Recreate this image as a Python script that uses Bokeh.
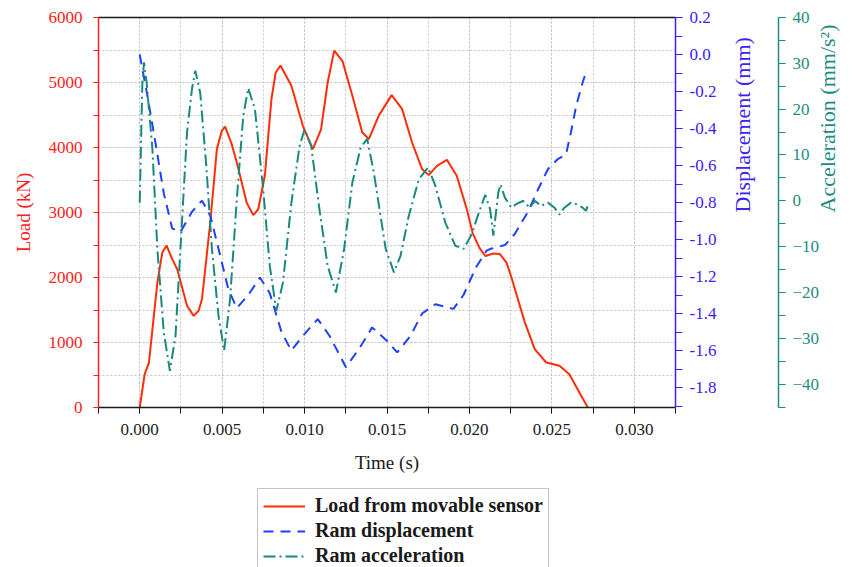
import math
from bokeh.plotting import figure
from bokeh.layouts import column
from bokeh.models import (Range1d, LinearAxis, SingleIntervalTicker, FixedTicker,
                          PrintfTickFormatter, Legend, LegendItem)
from bokeh.embed import file_html
from bokeh.resources import INLINE

# ---------------- data ----------------
load_t = [0.0, 0.0003, 0.00056, 0.00107, 0.00137, 0.00163, 0.00197, 0.00227, 0.00287,
          0.00327, 0.00357, 0.00378, 0.00428, 0.00468, 0.00498, 0.00518, 0.00558, 0.00589,
          0.00649, 0.00689, 0.00719, 0.00759, 0.00799, 0.00825, 0.00854, 0.0092, 0.0099,
          0.0105, 0.0110, 0.0114, 0.0118, 0.0123, 0.0129, 0.0135, 0.0139, 0.0145, 0.01528,
          0.01592, 0.01652, 0.01713, 0.01753, 0.01803, 0.01863, 0.01923, 0.01984, 0.0202,
          0.0206, 0.02096, 0.02145, 0.02185, 0.02225, 0.02255, 0.02336, 0.02396, 0.02466,
          0.02546, 0.02606, 0.02667, 0.02718]
load_kn = [0, 510, 690, 1920, 2385, 2490, 2283, 2130, 1565,
           1410, 1488, 1670, 2850, 3975, 4257, 4320, 4052, 3770,
           3150, 2960, 3050, 3565, 4745, 5154, 5260, 4950, 4330,
           3975, 4280, 5000, 5490, 5330, 4795, 4230, 4130, 4490, 4806,
           4590, 4077, 3668, 3575, 3718, 3811, 3565, 3052, 2680,
           2460, 2330, 2370, 2360, 2230, 2000, 1310, 898, 692,
           642, 513, 231, 0]

disp_t = [0.0, 0.00046, 0.00096, 0.00146, 0.00197, 0.00247, 0.00317, 0.00378, 0.00428,
          0.00478, 0.00538, 0.00589, 0.00659, 0.00729, 0.00789, 0.0086, 0.0092, 0.0099,
          0.0108, 0.01151, 0.01251, 0.01331, 0.0141, 0.01502, 0.01562, 0.01643, 0.01713,
          0.01793, 0.01903, 0.01964, 0.0204, 0.02104, 0.0213, 0.02215, 0.02275, 0.02355,
          0.02416, 0.02476, 0.02536, 0.02586, 0.02616, 0.02647, 0.02687, 0.02713]
disp_mm = [0.0, -0.22, -0.48, -0.75, -0.94, -0.96, -0.85, -0.79, -0.87,
           -1.05, -1.27, -1.37, -1.30, -1.205, -1.29, -1.50, -1.60, -1.52,
           -1.43, -1.52, -1.69, -1.59, -1.475, -1.55, -1.61, -1.52, -1.40,
           -1.35, -1.375, -1.30, -1.15, -1.06, -1.05, -1.03, -0.97, -0.85,
           -0.73, -0.62, -0.565, -0.54, -0.42, -0.28, -0.15, -0.08]

acc_t = [0.0, 0.00016, 0.00026, 0.00042, 0.00077, 0.00107, 0.00146, 0.00183, 0.00217,
         0.00247, 0.00287, 0.00317, 0.00337, 0.00367, 0.00404, 0.00438, 0.00478, 0.00512,
         0.00548, 0.00589, 0.00628, 0.00658, 0.00699, 0.00749, 0.00789, 0.00829, 0.00869,
         0.0092, 0.0097, 0.0100, 0.0104, 0.0109, 0.0114, 0.0119, 0.0124, 0.0129, 0.0134,
         0.0138, 0.0142, 0.01492, 0.01542, 0.01582, 0.01632, 0.01693, 0.01749, 0.01793,
         0.01853, 0.01914, 0.01964, 0.02014, 0.02054, 0.02096, 0.02125, 0.02145, 0.02175,
         0.02189, 0.02215, 0.02255, 0.02285, 0.02325, 0.02366, 0.02396, 0.02436, 0.02476,
         0.02516, 0.02546, 0.02576, 0.02616, 0.02647, 0.02687, 0.02707, 0.02721]
acc_mms2 = [-0.4, 25.8, 30.2, 25.8, 11.3, -10.5, -28.7, -37.1, -29.5,
            -10.5, 14.9, 24.4, 28.4, 23.6, 7.6, -10.5, -25.1, -32.7,
            -21.5, 0.4, 18.5, 24.6, 20.0, 2.5, -14.2, -24.0, -17.8,
            -0.4, 12.0, 15.6, 12.0, -1.8, -14.2, -20.0, -10.5, 4.0, 11.6,
            13.5, 6.2, -10.5, -15.6, -12.0, -3.3, 4.7, 7.3, 3.3,
            -4.7, -9.8, -10.5, -7.3, -2.9, 1.3, -1.8, -7.6, 1.8,
            3.6, 0.7, -1.5, -0.7, 0.0, -1.5, 0.0, -1.1, -0.4,
            -1.5, -3.0, -1.5, -0.4, -0.7, -1.5, -2.2, -0.7]

series_labels = ["Load from movable sensor", "Ram displacement", "Ram acceleration"]

# ---------------- styling ----------------
FONT = "Liberation Serif"
RED_AX = "#ff2020"
RED_LN = "#ff2d0a"
BLUE_AX = "#3c22f2"
BLUE_LN = "#2040ff"
TEAL_AX = "#1d8c84"
TEAL_LN = "#18897e"
BLACK = "#1a1a1a"
BLUE_DASH = "10 7"
TEAL_DASH = "12 4 2 4"

p = figure(frame_width=577, frame_height=390, output_backend="svg", toolbar_location=None,
           x_range=Range1d(-0.0025, 0.0325), y_range=Range1d(0, 6000),
           min_border_left=98, min_border_top=17, min_border_right=0, min_border_bottom=80,
           title=None, background_fill_color="white", border_fill_color="white")
p.outline_line_color = None

p.extra_y_ranges = {"disp": Range1d(-1.908, 0.2), "acc": Range1d(-45.1, 40)}

# x axis
xt = SingleIntervalTicker(interval=0.005, num_minor_ticks=2)
xa = p.xaxis[0]
xa.ticker = xt
xa.formatter = PrintfTickFormatter(format="%.3f")
xa.axis_label = "Time (s)"
xa.axis_label_text_font = FONT
xa.axis_label_text_font_style = "normal"
xa.axis_label_text_font_size = "19px"
xa.axis_label_text_color = BLACK
xa.major_label_text_font = FONT
xa.major_label_text_font_size = "17px"
xa.major_label_text_color = BLACK
xa.axis_line_color = BLACK
xa.axis_line_width = 1.5
xa.major_tick_line_color = BLACK
xa.minor_tick_line_color = BLACK
xa.major_tick_out = 6
xa.major_tick_in = 0
xa.minor_tick_out = 6
xa.minor_tick_in = 0
xa.major_label_standoff = 10
xa.axis_label_standoff = 14

# left (load) axis
yt = SingleIntervalTicker(interval=1000, num_minor_ticks=2)
ya = p.yaxis[0]
ya.ticker = yt
ya.axis_label = "Load (kN)"
ya.axis_label_text_font = FONT
ya.axis_label_text_font_style = "normal"
ya.axis_label_text_font_size = "19px"
ya.axis_label_text_color = RED_AX
ya.major_label_text_font = FONT
ya.major_label_text_font_size = "17px"
ya.major_label_text_color = RED_AX
ya.axis_line_color = RED_AX
ya.axis_line_width = 1.5
ya.major_tick_line_color = RED_AX
ya.minor_tick_line_color = RED_AX
ya.major_tick_out = 5
ya.major_tick_in = 0
ya.minor_tick_out = 5
ya.minor_tick_in = 0
ya.major_label_standoff = 11
ya.axis_label_standoff = 12

# grids
for g, t in ((p.xgrid[0], xt), (p.ygrid[0], yt)):
    g.ticker = t
    g.grid_line_color = "#c4c4c4"
    g.grid_line_dash = "2 2"
    g.grid_line_width = 1
    g.minor_grid_line_color = "#c4c4c4"
    g.minor_grid_line_dash = "2 2"
    g.minor_grid_line_width = 1

# top border line
top = LinearAxis(ticker=FixedTicker(ticks=[]), major_label_text_font_size="0px",
                 axis_line_color=BLACK, axis_line_width=1.5, major_tick_out=0,
                 minor_tick_out=0, major_label_standoff=0)
p.add_layout(top, "above")

# right axes
ax_d = LinearAxis(y_range_name="disp",
                  ticker=SingleIntervalTicker(interval=0.2, num_minor_ticks=2),
                  formatter=PrintfTickFormatter(format="%.1f"),
                  axis_label="Displacement (mm)")
ax_a = LinearAxis(y_range_name="acc",
                  ticker=SingleIntervalTicker(interval=10, num_minor_ticks=2),
                  axis_label="Acceleration (mm/s\u00b2)")
for ax, col, std in ((ax_d, BLUE_AX, 23), (ax_a, TEAL_AX, 5)):
    ax.axis_label_text_font = FONT
    ax.axis_label_text_font_style = "normal"
    ax.axis_label_text_font_size = "22px"
    ax.axis_label_text_color = col
    ax.axis_label_orientation = math.pi / 2
    ax.major_label_text_font = FONT
    ax.major_label_text_font_size = "17px"
    ax.major_label_text_color = col
    ax.axis_line_color = col
    ax.axis_line_width = 1.5
    ax.major_tick_line_color = col
    ax.minor_tick_line_color = col
    ax.major_tick_out = 7
    ax.major_tick_in = 0
    ax.minor_tick_out = 7
    ax.minor_tick_in = 0
    ax.major_label_standoff = 7
    ax.axis_label_standoff = std

spacer = LinearAxis(y_range_name="disp", ticker=FixedTicker(ticks=[]),
                    major_label_text_font_size="0px", axis_line_color=None,
                    major_tick_line_color=None, minor_tick_line_color=None,
                    major_tick_out=0, minor_tick_out=0, major_label_standoff=0,
                    axis_label=" ", axis_label_text_font_size="4px",
                    axis_label_standoff=0)
p.add_layout(ax_d, "right")
p.add_layout(spacer, "right")
p.add_layout(ax_a, "right")

# curves
p.line(load_t, load_kn, line_color=RED_LN, line_width=2)
p.line(disp_t, disp_mm, y_range_name="disp", line_color=BLUE_LN, line_width=2,
       line_dash=BLUE_DASH)
p.line(acc_t, acc_mms2, y_range_name="acc", line_color=TEAL_LN, line_width=2,
       line_dash=TEAL_DASH)

# ---------------- legend strip below the chart ----------------
lg = figure(width=846, height=80, output_backend="svg", toolbar_location=None,
            x_axis_location=None, y_axis_location=None, title=None,
            min_border=0, background_fill_color="white", border_fill_color="white")
lg.outline_line_color = None
lg.xgrid.visible = False
lg.ygrid.visible = False
k1 = lg.line(load_t, load_kn, line_color=RED_LN, line_width=2, visible=False)
k2 = lg.line(disp_t, disp_mm, line_color=BLUE_LN, line_width=2, line_dash=BLUE_DASH,
             visible=False)
k3 = lg.line(acc_t, acc_mms2, line_color=TEAL_LN, line_width=2, line_dash=TEAL_DASH,
             visible=False)

legend = Legend(items=[LegendItem(label=series_labels[0], renderers=[k1]),
                       LegendItem(label=series_labels[1], renderers=[k2]),
                       LegendItem(label=series_labels[2], renderers=[k3])],
                location=(159, -6), orientation="vertical")
legend.label_text_font = FONT
legend.label_text_font_style = "bold"
legend.label_text_font_size = "20px"
legend.label_text_color = BLACK
legend.glyph_width = 42
legend.glyph_height = 20
legend.label_height = 20
legend.label_standoff = 10
legend.spacing = 2
legend.padding = 5
legend.margin = 0
legend.border_line_color = "#8a8a8a"
legend.border_line_width = 1
legend.background_fill_color = "white"
legend.background_fill_alpha = 1.0
legend.inactive_fill_alpha = 0.0
lg.add_layout(legend, "center")

open("out.html", "w").write(file_html(column(p, lg, spacing=0), INLINE))
